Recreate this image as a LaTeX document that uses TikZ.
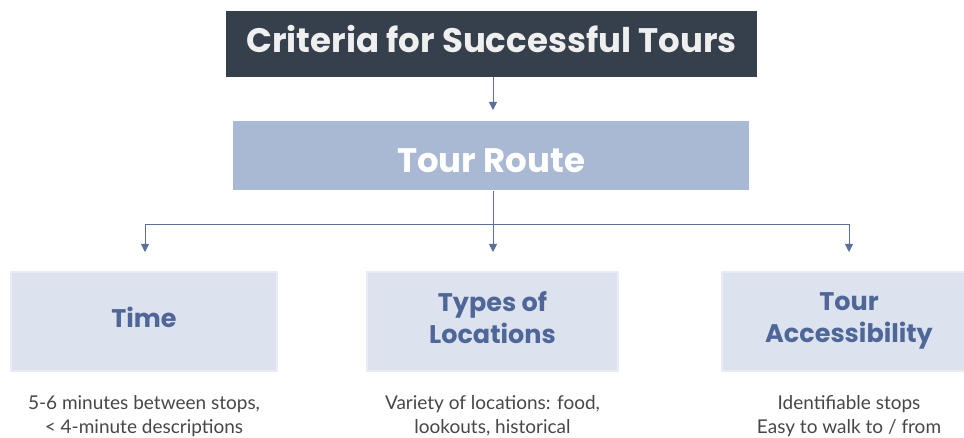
\documentclass[tikz,border=0pt]{standalone}
\usepackage{fontspec}
\setmainfont{Lato}
\newfontfamily\headfont{Poppins}[UprightFont=* Bold]
\usetikzlibrary{arrows.meta}
\definecolor{topfill}{HTML}{363F4C}
\definecolor{routefill}{HTML}{A9B8D3}
\definecolor{leaffill}{HTML}{DDE3EE}
\definecolor{leafedge}{HTML}{E8ECF3}
\definecolor{leaftext}{HTML}{4F6798}
\definecolor{linkcol}{HTML}{5B6F98}
\definecolor{bodytext}{HTML}{474747}
\definecolor{titletext}{HTML}{EFEFEF}
\begin{document}
\begin{tikzpicture}[x=1pt,y=1pt,
  titlebox/.style={fill=topfill,draw=none,minimum width=531pt,minimum height=66pt,
    text height=25pt,text depth=7pt,
    text=titletext,font=\headfont\fontsize{34}{38}\selectfont},
  routebox/.style={fill=routefill,draw=none,minimum width=516pt,minimum height=69pt,
    text height=33pt,text depth=0pt,
    text=white,font=\headfont\fontsize{34}{38}\selectfont},
  leafbox/.style={fill=leaffill,draw=leafedge,line width=1.5pt,minimum height=99pt,
    text depth=8pt,
    text=leaftext,align=center,font=\headfont\fontsize{25.5}{32}\selectfont},
  desc/.style={text=bodytext,align=center,font=\fontsize{19}{24}\selectfont},
  link/.style={draw=linkcol,line width=0.9pt},
  tip/.style={-{Triangle[length=8pt,width=8pt]}}
]
\useasboundingbox (0,0) rectangle (964,438);
\fill[white] (0,0) rectangle (964,438);

\node[titlebox] (crit) at (491.5,394) {Criteria for Successful Tours};
\node[routebox] (route) at (491,282) {Tour Route};

\node[leafbox,minimum width=266pt] (time) at (144,116.5) {Time};
\node[leafbox,minimum width=251pt] (types) at (492.5,116.5) {Types of\\Locations};
\node[leafbox,minimum width=254pt] (access) at (849,116.5) {Tour\\Accessibility};

\node[desc] (dtime) at (144,22) {5-6 minutes between stops,\\\textless{} 4-minute descriptions};
\node[desc] (dtypes) at (492.5,22) {Variety of locations: food,\\lookouts, historical};
\node[desc] (daccess) at (849,22) {Identifiable stops\\Easy to walk to / from};

\coordinate (split) at (493,214);
\coordinate (tipT) at (493,328);
\coordinate (tipA) at (145,186);
\coordinate (tipB) at (493,186);
\coordinate (tipC) at (849,186);

\draw[link,tip] (crit.south -| tipT) -- (tipT);
\draw[link] (route.south -| split) -- (split);
\draw[link] (split -| tipA) -- (split -| tipC);
\draw[link,tip] (split -| tipA) -- (tipA);
\draw[link,tip] (split) -- (tipB);
\draw[link,tip] (split -| tipC) -- (tipC);
\end{tikzpicture}
\end{document}
